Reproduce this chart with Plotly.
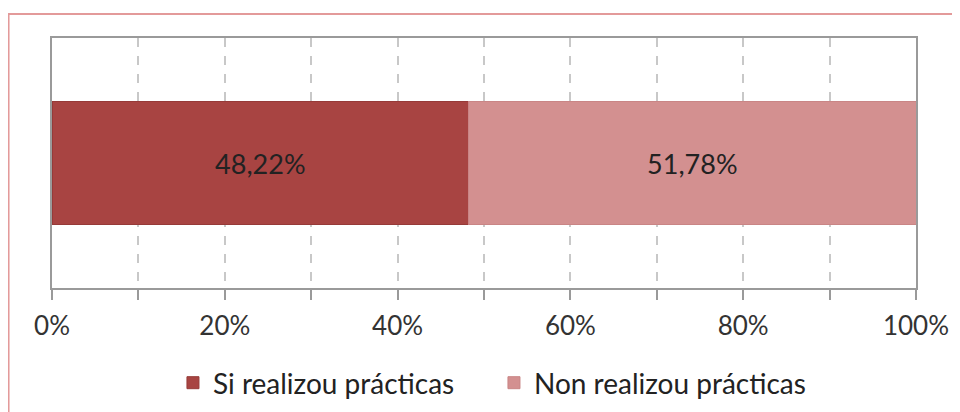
import plotly.graph_objects as go

categories = [""]
series_names = ["Si realizou prácticas", "Non realizou prácticas"]
series_values = [48.22, 51.78]
colors = ["#A84442", "#D39090"]
edge_colors = ["#963a38", "#c98585"]

fig = go.Figure()
for name, val, col, edge in zip(series_names, series_values, colors, edge_colors):
    fig.add_trace(go.Bar(
        y=categories, x=[val / 100], name=name, orientation="h",
        marker=dict(color=col, line=dict(color=edge, width=1)),
        text=[f"{val:.2f}%".replace(".", ",")], textposition="inside",
        insidetextanchor="middle",
        textfont=dict(color="#222222", size=27, family="Lato"),
        width=0.49,
    ))

grey = "#9a9a9a"
# page body has an 8px margin, so the figure is drawn 8px smaller
fig.update_layout(
    barmode="stack",
    width=952, height=404,
    margin=dict(l=44, r=44, t=30, b=124, autoexpand=False),
    paper_bgcolor="white", plot_bgcolor="white",
    font=dict(family="Lato", size=26, color="#333333"),
    showlegend=True,
    legend=dict(orientation="h", x=0.14, xanchor="left", y=-0.38, yanchor="middle",
                font=dict(size=28, color="#222222"), traceorder="normal",
                itemwidth=30, entrywidth=276),
    shapes=[dict(type="rect", xref="paper", yref="paper",
                 x0=-0.0503, x1=1.2, y0=-1.0, y1=1.096,
                 line=dict(color="#e39a9a", width=2), layer="below")],
)
fig.update_xaxes(
    range=[0, 1], tickformat=".0%", dtick=0.2, tick0=0,
    showgrid=True, gridcolor="#c8c8c8", griddash="dash", gridwidth=1.5,
    ticks="outside", ticklen=10, tickcolor=grey, tickwidth=1.5,
    minor=dict(dtick=0.1, showgrid=True, gridcolor="#c8c8c8", griddash="dash",
               ticks="outside", ticklen=10, tickcolor=grey, tickwidth=1.5),
    showline=True, linecolor=grey, linewidth=2, mirror=True,
    ticklabelstandoff=4, zeroline=False, automargin=False,
    tickfont=dict(size=26, color="#333333"),
)
fig.update_yaxes(
    range=[-0.5, 0.5], showticklabels=False, showgrid=False,
    showline=True, linecolor=grey, linewidth=2, mirror=True, zeroline=False,
    automargin=False,
)

fig.write_html("out.html")
